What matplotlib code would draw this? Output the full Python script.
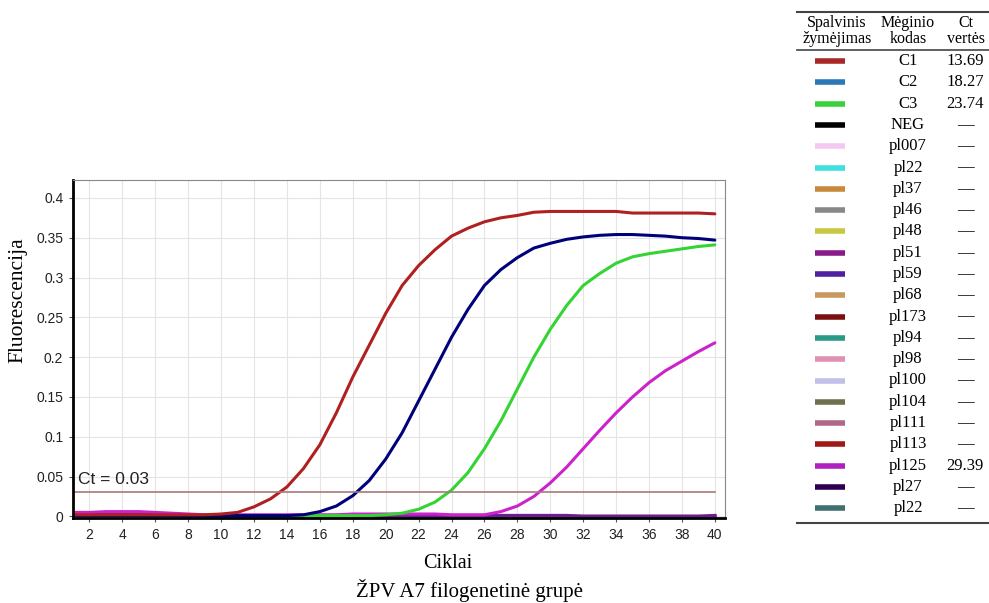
import matplotlib.pyplot as plt
import numpy as np
from matplotlib.lines import Line2D

cycles = list(range(1, 41))

c1 = [0.002, 0.002, 0.002, 0.002, 0.002, 0.002, 0.002, 0.002, 0.002, 0.003,
      0.005, 0.012, 0.022, 0.037, 0.060, 0.090, 0.130, 0.175, 0.215, 0.255,
      0.290, 0.315, 0.335, 0.352, 0.362, 0.370, 0.375, 0.378, 0.382, 0.383,
      0.383, 0.383, 0.383, 0.383, 0.381, 0.381, 0.381, 0.381, 0.381, 0.380]
c2 = [0.001, 0.001, 0.001, 0.001, 0.001, 0.001, 0.001, 0.001, 0.001, 0.001,
      0.001, 0.001, 0.001, 0.001, 0.002, 0.006, 0.013, 0.026, 0.045, 0.072,
      0.105, 0.145, 0.185, 0.225, 0.260, 0.290, 0.310, 0.325, 0.337, 0.343,
      0.348, 0.351, 0.353, 0.354, 0.354, 0.353, 0.352, 0.350, 0.349, 0.347]
c3 = [0.001, 0.001, 0.001, 0.001, 0.001, 0.001, 0.001, 0.001, 0.001, 0.001,
      0.001, 0.001, 0.001, 0.001, 0.001, 0.001, 0.001, 0.001, 0.001, 0.002,
      0.004, 0.009, 0.018, 0.033, 0.055, 0.085, 0.120, 0.160, 0.200, 0.235,
      0.265, 0.290, 0.305, 0.318, 0.326, 0.330, 0.333, 0.336, 0.339, 0.341]
pl125 = [0.005, 0.005, 0.006, 0.006, 0.006, 0.005, 0.004, 0.003, 0.002, 0.002,
         0.002, 0.002, 0.002, 0.002, 0.002, 0.002, 0.002, 0.003, 0.003, 0.003,
         0.003, 0.003, 0.003, 0.002, 0.002, 0.002, 0.006, 0.013, 0.025, 0.042,
         0.062, 0.085, 0.108, 0.130, 0.150, 0.168, 0.183, 0.195, 0.207, 0.218]
# negative samples sit on the baseline
neg_a = [0.003, 0.003, 0.004, 0.004, 0.004, 0.003, 0.002, 0.001, 0.001, 0.001,
         0.001, 0.001, 0.001, 0.001, 0.001, 0.001, 0.001, 0.001, 0.001, 0.001,
         0.001, 0.001, 0.001, 0.001, 0.001, 0.001, 0.001, 0.001, 0.001, 0.001,
         0.001, 0.000, 0.000, 0.000, 0.000, 0.000, 0.000, 0.000, 0.000, 0.001]
neg_b = [0.001, 0.001, 0.001, 0.001, 0.001, 0.001, 0.001, 0.000, 0.000, 0.000,
         0.000, 0.000, 0.000, 0.000, 0.000, 0.000, 0.000, 0.000, 0.000, 0.000,
         0.000, 0.000, 0.000, 0.000, 0.000, 0.000, 0.000, 0.000, 0.000, 0.000,
         0.000, 0.000, 0.000, 0.000, 0.000, 0.000, 0.000, 0.000, 0.000, 0.000]

threshold = 0.03
x_ticks = list(range(2, 41, 2))
y_ticks = [0, 0.05, 0.1, 0.15, 0.2, 0.25, 0.3, 0.35, 0.4]
y_tick_labels = ["0", "0.05", "0.1", "0.15", "0.2", "0.25", "0.3", "0.35", "0.4"]

codes = ["C1", "C2", "C3", "NEG", "pl007", "pl22", "pl37", "pl46", "pl48", "pl51",
         "pl59", "pl68", "pl173", "pl94", "pl98", "pl100", "pl104", "pl111",
         "pl113", "pl125", "pl27", "pl22"]
ct_values = ["13.69", "18.27", "23.74", "—", "—", "—", "—", "—", "—", "—",
             "—", "—", "—", "—", "—", "—", "—", "—", "—", "29.39", "—", "—"]
swatch_colors = ["#a82828", "#2a78b8", "#3ad23a", "#000000", "#f4c8f0", "#40e0e0",
                 "#c88a3a", "#888888", "#c8c840", "#8a1a8a", "#5020a0", "#c89860",
                 "#7a1010", "#2a9a88", "#e090b0", "#c0c0e8", "#707050", "#b06888",
                 "#a01818", "#b020c0", "#300050", "#407070"]

serif = ["Liberation Serif", "DejaVu Serif"]
sans = ["Liberation Sans Narrow", "Liberation Sans", "DejaVu Sans"]

fig = plt.figure(figsize=(9.89, 6.03), dpi=100)
ax = fig.add_axes([0.0738, 0.141, 0.659, 0.5605])

# baseline negatives first, then the positives on top
ax.plot(cycles, neg_b, color="#707050", lw=2.5)
ax.plot(cycles, neg_b, color="#407070", lw=2.0)
ax.plot(cycles, neg_a, color="#8a1a8a", lw=2.5)
ax.plot(cycles, neg_a, color="#5020a0", lw=1.5, alpha=0.7)
kw = dict(lw=2.2, solid_joinstyle="round", solid_capstyle="round")
ax.plot(cycles, pl125, color="#cc22cc", **kw)
ax.plot(cycles, c3, color="#33d433", **kw)
ax.plot(cycles, c2, color="#00007a", **kw)
ax.plot(cycles, c1, color="#b02020", **kw)

ax.plot([1, 40], [threshold, threshold], color="#a87878", lw=1.2)
ax.text(1.3, threshold + 0.0105, "Ct = 0.03", family=["Liberation Sans", "DejaVu Sans"],
        fontsize=12.5, color="#222222")

ax.set_xlim(1, 40.6)
ax.set_ylim(-0.002, 0.4225)
ax.set_xticks(x_ticks)
ax.set_yticks(y_ticks)
ax.set_yticklabels(y_tick_labels)
for lab in ax.get_xticklabels() + ax.get_yticklabels():
    lab.set_family(sans)
    lab.set_fontsize(10)
    lab.set_color("#222222")
ax.tick_params(length=3, width=0.8, color="#555555", pad=4)
ax.grid(True, color="#e4e4e4", lw=0.8)
ax.set_axisbelow(True)
ax.spines["left"].set_linewidth(2)
ax.spines["bottom"].set_linewidth(2)
ax.spines["top"].set_color("#888888")
ax.spines["right"].set_color("#888888")

fig.text(18 / 989, 1 - 300 / 603, "Fluorescencija", rotation=90, ha="center", va="center",
         family=serif, fontsize=15.5)
fig.text(448 / 989, 1 - 563 / 603, "Ciklai", ha="center", va="center", family=serif,
         fontsize=14.5)
fig.text(469 / 989, 1 - 591 / 603, "ŽPV A7 filogenetinė grupė", ha="center", va="center",
         family=serif, fontsize=15)

# table on the right
def fx(px):
    return px / 989

def fy(py):
    return 1 - py / 603

for py, lw in [(12, 1.5), (50, 1.2), (523, 1.5)]:
    fig.add_artist(Line2D([fx(797), fx(989)], [fy(py), fy(py)], color="#444444", lw=lw))

for cx, head in [(837, "Spalvinis\nžymėjimas"), (908, "Mėginio\nkodas"), (966, "Ct\nvertės")]:
    fig.text(fx(cx), fy(31), head, ha="center", va="center", family=serif,
             fontsize=11.5, linespacing=1.05)

for i, (code, ct, col) in enumerate(zip(codes, ct_values, swatch_colors)):
    py = 61 + i * 21.3
    fig.add_artist(Line2D([fx(815), fx(845)], [fy(py), fy(py)], color=col, lw=4,
                          solid_capstyle="butt"))
    fig.text(fx(908), fy(py), code, ha="center", va="center", family=serif, fontsize=12)
    fig.text(fx(965), fy(py), ct, ha="center", va="center", family=serif, fontsize=12)

fig.savefig("out.png", dpi=100)
